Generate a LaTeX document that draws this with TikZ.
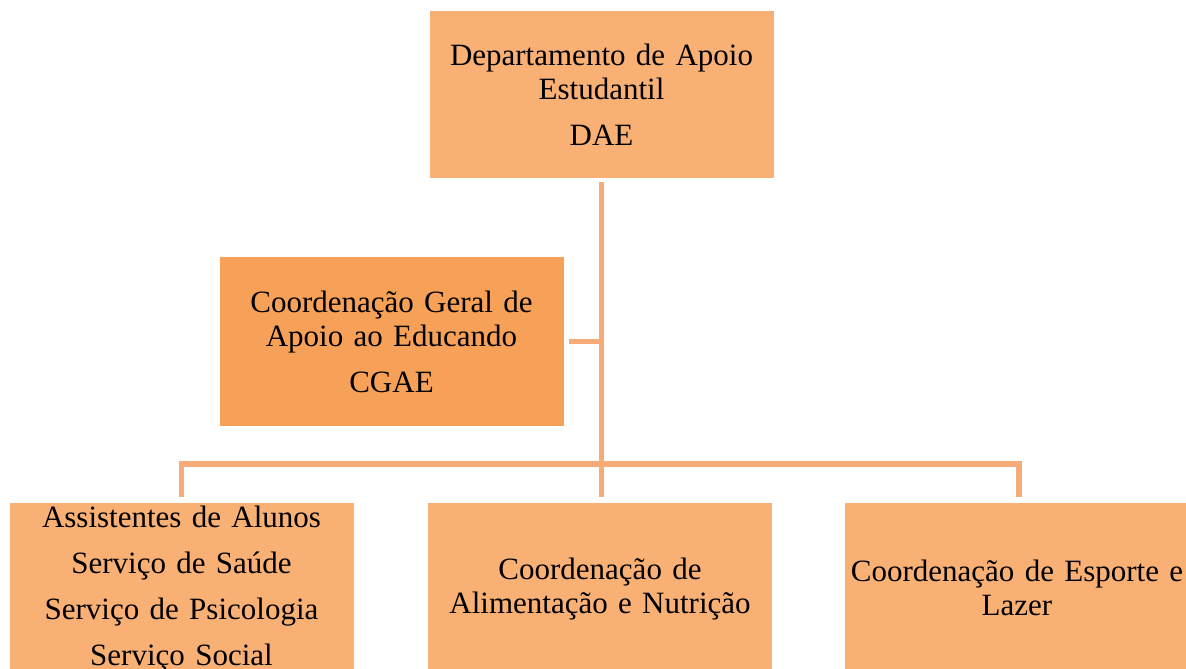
\documentclass[tikz,border=0pt]{standalone}
\usepackage{fontspec}
\setmainfont{Liberation Serif}
\usetikzlibrary{positioning}
\definecolor{unitfill}{RGB}{249,176,116}
\definecolor{coordfill}{RGB}{247,161,88}
\definecolor{linkcol}{RGB}{246,171,120}

\begin{document}
\begin{tikzpicture}[
        x=0.5pt, y=-0.5pt,
        unit/.style={
          fill=unitfill,
          inner sep=0pt,
          text width=172pt,
          minimum width=171.5pt,
          align=center,
          font=\fontsize{15.5}{17}\selectfont
        },
        link/.style={
          draw=linkcol,
          line width=2.6pt
        }
      ]
        \clip (0,0) rectangle (1186,668);

        \node[unit,minimum height=83.5pt] (dae) at (601.5,95) {Departamento de Apoio\\ Estudantil\\[6pt] DAE};
        \node[unit,minimum height=84.5pt,fill=coordfill] (cgae) at (391.5,341.5) {Coordena\c{c}\~ao Geral de\\ Apoio ao Educando\\[6pt] CGAE};

        \node[unit,anchor=north,minimum width=170pt,minimum height=86pt,font=\fontsize{15.5}{23}\selectfont] (aux) at (181.5,503) {Assistentes de Alunos\\ Servi\c{c}o de Sa\'ude\\ Servi\c{c}o de Psicologia\\ Servi\c{c}o Social};
        \node[unit,anchor=north,minimum width=170pt,minimum height=86pt] (alim) at (600,503) {Coordena\c{c}\~ao de\\ Alimenta\c{c}\~ao e Nutri\c{c}\~ao};
        \node[unit,anchor=north,minimum width=170pt,minimum height=84pt] (esp) at (1017,503) {Coordena\c{c}\~ao de Esporte e\\ Lazer};

        \coordinate (bus) at (601,464);

        \draw[link,shorten <=1.5pt,shorten >=3pt] (dae.south) -- (dae.south |- alim.north);
        \draw[link,shorten <=2.5pt] (cgae.east) -- (cgae.east -| dae.south);
        \draw[link,shorten <=3pt,shorten >=3pt] (aux.north) -- (aux.north |- bus) -- ([xshift=1pt]esp.north |- bus) -- ([xshift=1pt]esp.north);
      \end{tikzpicture}
\end{document}
